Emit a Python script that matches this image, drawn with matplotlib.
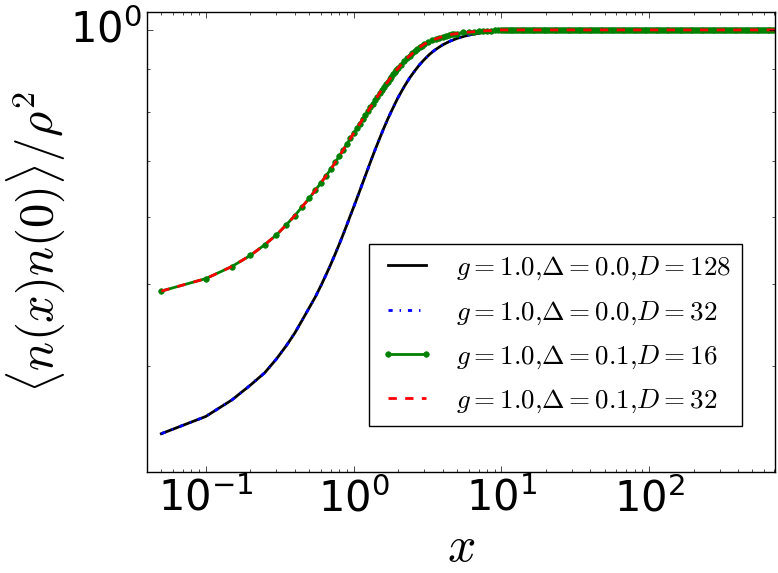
import matplotlib
matplotlib.use("Agg")
import matplotlib.pyplot as plt
import numpy as np
from matplotlib.ticker import NullFormatter

plt.style.use("classic")

# g=1.0, Delta=0.0 (D=128 and D=32 lie on top of each other)
x_d0 = [0.05, 0.1, 0.15, 0.2, 0.25, 0.3, 0.35, 0.4, 0.45, 0.5,
        0.55, 0.6, 0.65, 0.7, 0.75, 0.8, 0.85, 0.9, 0.95, 1.0,
        1.1, 1.2, 1.3, 1.4, 1.5, 1.6, 1.7, 1.8, 1.9, 2.0,
        2.2, 2.4, 2.6, 2.8, 3.0, 3.25, 3.5, 3.75, 4.0, 4.5,
        5.0, 5.5, 6.0, 7.0, 8.0, 9.0, 10.0, 12.0, 15.0, 20.0,
        50.0, 100.0, 200.0, 400.0, 710.0]
y_d0_D128 = [0.333, 0.349, 0.365, 0.380, 0.393, 0.408, 0.423, 0.438, 0.454, 0.469,
             0.483, 0.498, 0.513, 0.528, 0.543, 0.558, 0.573, 0.588, 0.603, 0.617,
             0.645, 0.672, 0.698, 0.722, 0.744, 0.765, 0.784, 0.801, 0.817, 0.832,
             0.857, 0.878, 0.895, 0.910, 0.922, 0.935, 0.945, 0.953, 0.960, 0.970,
             0.977, 0.982, 0.986, 0.991, 0.994, 0.996, 0.997, 0.999, 1.0, 1.0,
             1.0, 1.0, 1.0, 1.0, 1.0]
y_d0_D32 = list(y_d0_D128)

# g=1.0, Delta=0.1 (D=16 and D=32 lie on top of each other)
x_d1_head = [0.05, 0.10, 0.15, 0.20, 0.25, 0.30, 0.35, 0.40, 0.45, 0.50,
             0.55, 0.60, 0.65, 0.70, 0.75, 0.80, 0.85, 0.90, 0.95, 1.00,
             1.05, 1.10, 1.15, 1.20, 1.25, 1.30, 1.35, 1.40, 1.45, 1.50,
             1.55, 1.60, 1.65, 1.70, 1.75, 1.80, 1.85, 1.90, 1.95, 2.00,
             2.10, 2.20, 2.30, 2.40, 2.50, 2.60, 2.70, 2.80, 2.90, 3.00,
             3.2, 3.4, 3.6, 3.8, 4.0, 4.2, 4.4, 4.6, 4.8, 5.0,
             5.5, 6.0, 6.5, 7.0, 7.5, 8.0, 8.5, 9.0, 9.5]
y_d1_head = [0.491, 0.508, 0.525, 0.541, 0.557, 0.572, 0.588, 0.603, 0.618, 0.632,
             0.646, 0.659, 0.672, 0.684, 0.697, 0.709, 0.721, 0.733, 0.744, 0.755,
             0.765, 0.775, 0.784, 0.793, 0.802, 0.810, 0.818, 0.826, 0.834, 0.842,
             0.849, 0.856, 0.862, 0.868, 0.874, 0.880, 0.886, 0.891, 0.896, 0.901,
             0.910, 0.919, 0.926, 0.932, 0.938, 0.944, 0.949, 0.954, 0.958, 0.962,
             0.967, 0.972, 0.976, 0.979, 0.982, 0.984, 0.986, 0.988, 0.989, 0.990,
             0.993, 0.994, 0.995, 0.997, 0.997, 0.998, 0.998, 0.999, 0.999]
# flat tail at 1.0, sampled densely like the original grid
x_d1_tail = list(np.geomspace(10, 710, 150))
y_d1_tail = [1.0] * len(x_d1_tail)

x_d1 = x_d1_head + x_d1_tail
y_d1_D16 = y_d1_head + y_d1_tail
y_d1_D32 = list(y_d1_D16)

labels = [r"$g=1.0{,}\Delta=0.0{,}D=128$", r"$g=1.0{,}\Delta=0.0{,}D=32$",
          r"$g=1.0{,}\Delta=0.1{,}D=16$", r"$g=1.0{,}\Delta=0.1{,}D=32$"]

fig = plt.figure(figsize=(7.78, 5.73), dpi=100, facecolor="white")
ax = fig.add_axes([147/778, 1-472/573, 628/778, 460/573])

ax.plot(x_d0, y_d0_D128, "k-", lw=2, label=labels[0])
ax.plot(x_d0, y_d0_D32, "b-.", lw=2, label=labels[1])
ax.plot(x_d1, y_d1_D16, "g.-", lw=2, ms=8, mec="g", label=labels[2])
ax.plot(x_d1, y_d1_D32, "r--", lw=2, label=labels[3])

ax.set_xscale("log")
ax.set_yscale("log")
ax.set_xlim(0.04, 710)
ax.set_ylim(0.3, 1.05)
ax.yaxis.set_minor_formatter(NullFormatter())
ax.tick_params(labelsize=30)

ax.set_xlabel(r"$x$", fontsize=36, labelpad=2)
ax.set_ylabel(r"$\langle n(x)n(0)\rangle/\rho^2$", fontsize=35, labelpad=2)

ax.legend(loc="lower right", bbox_to_anchor=(0.947, 0.1), borderaxespad=0,
          fontsize=19.5, numpoints=2, labelspacing=0.62)

fig.savefig("out.png", dpi=100, facecolor="white")
